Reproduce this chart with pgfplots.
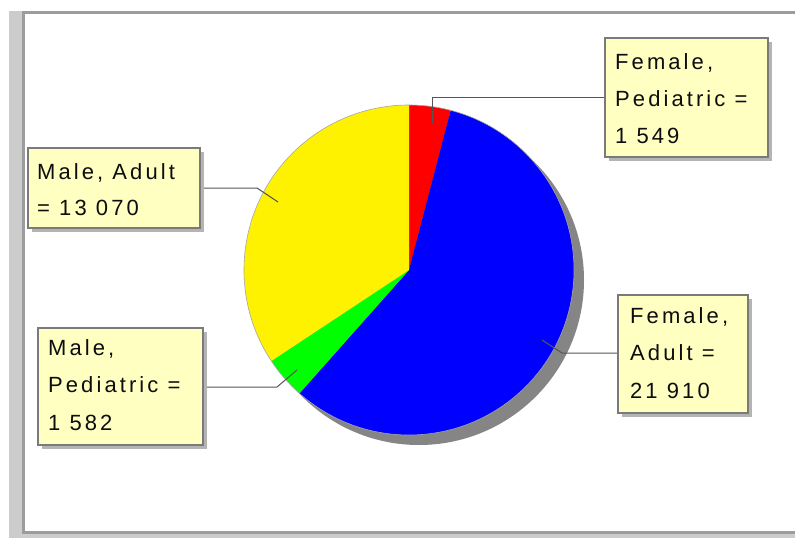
\documentclass[border=0pt]{standalone}
\usepackage{fontspec}
\setmainfont{Liberation Sans}[LetterSpace=14]
\usepackage{pgfplots}
\pgfplotsset{compat=1.18}
\definecolor{boxfill}{HTML}{FFFFC2}
\definecolor{boxdraw}{HTML}{7A7A7A}
\definecolor{boxshadow}{HTML}{B4B4B4}
\definecolor{pieshadow}{HTML}{858585}
\definecolor{leader}{HTML}{555555}
\definecolor{framebar}{HTML}{CCCCCC}
\definecolor{frameline}{HTML}{9C9C9C}
\definecolor{txt}{HTML}{0D0D0D}
% data (clockwise from top)
\def\vFP{1549}  % Female, Pediatric
\def\vFA{21910} % Female, Adult
\def\vMP{1582}  % Male, Pediatric
\def\vMA{13070} % Male, Adult
\edef\tot{\fpeval{\vFP+\vFA+\vMP+\vMA}}
\edef\aA{\fpeval{round(90-\vFP/\tot*360,4)}}
\edef\aB{\fpeval{round(\aA-\vFA/\tot*360,4)}}
\edef\aC{\fpeval{round(\aB-\vMP/\tot*360,4)}}
\edef\aD{\fpeval{round(\aC-\vMA/\tot*360,4)}}
\tikzset{bshadow/.style={fill=boxshadow},
  lbox/.style={fill=boxfill,draw=boxdraw,line width=1.5pt},
  lab/.style={anchor=base west,inner sep=0pt,text=txt,font=\fontsize{22}{26}\selectfont}}
\begin{document}
\begin{tikzpicture}
\begin{axis}[width=795pt,height=538pt,scale only axis,
  xmin=0,xmax=795,ymin=0,ymax=538,y dir=reverse,hide axis,clip=false]
% canvas
\fill[white] (axis cs:0,0) rectangle (axis cs:795,538);
% frame
\fill[framebar] (axis cs:9,11) rectangle (axis cs:795,538);
\fill[frameline] (axis cs:22,11) rectangle (axis cs:795,534);
\fill[white] (axis cs:25,14) rectangle (axis cs:795,531);
% pie shadow
\fill[pieshadow] (axis cs:419,280) circle[radius=165pt];
% slices
\fill[red] (axis cs:409,270) -- ++(90:165pt) arc[start angle=90,end angle=\aA,radius=165pt] -- cycle;
\fill[blue] (axis cs:409,270) -- ++(\aA:165pt) arc[start angle=\aA,end angle=\aB,radius=165pt] -- cycle;
\fill[green] (axis cs:409,270) -- ++(\aB:165pt) arc[start angle=\aB,end angle=\aC,radius=165pt] -- cycle;
\fill[yellow] (axis cs:409,270) -- ++(\aC:165pt) arc[start angle=\aC,end angle=\aD,radius=165pt] -- cycle;
\draw[black!35,line width=0.6pt] (axis cs:409,270) circle[radius=165pt];
% leader lines
\draw[leader,line width=1pt] (axis cs:432,123) -- (axis cs:432,97) -- (axis cs:605,97);
\draw[leader,line width=1pt] (axis cs:200,188) -- (axis cs:257,188) -- (axis cs:278,202);
\draw[leader,line width=1pt] (axis cs:203,387) -- (axis cs:277,387) -- (axis cs:297,370);
\draw[leader,line width=1pt] (axis cs:618,353) -- (axis cs:562,353) -- (axis cs:542,340);
% boxes
\fill[bshadow] (axis cs:609,42) rectangle (axis cs:772,161);
\path[lbox] (axis cs:605,38) rectangle (axis cs:768,157);
\fill[bshadow] (axis cs:32,152) rectangle (axis cs:204,232);
\path[lbox] (axis cs:28,148) rectangle (axis cs:200,228);
\fill[bshadow] (axis cs:42,332) rectangle (axis cs:207,449);
\path[lbox] (axis cs:38,328) rectangle (axis cs:203,445);
\fill[bshadow] (axis cs:622,299) rectangle (axis cs:752,417);
\path[lbox] (axis cs:618,295) rectangle (axis cs:748,413);
% texts
\node[lab] at (axis cs:615,69) {Female,};
\node[lab] at (axis cs:615,106) {Pediatric =};
\node[lab] at (axis cs:615,143) {1 549};
\node[lab] at (axis cs:37,179) {Male, Adult};
\node[lab] at (axis cs:37,215) {= 13 070};
\node[lab] at (axis cs:48,355) {Male,};
\node[lab] at (axis cs:48,392) {Pediatric =};
\node[lab] at (axis cs:48,430) {1 582};
\node[lab] at (axis cs:630,323) {Female,};
\node[lab] at (axis cs:630,360) {Adult =};
\node[lab] at (axis cs:630,398) {21 910};
\end{axis}
\end{tikzpicture}
\end{document}
